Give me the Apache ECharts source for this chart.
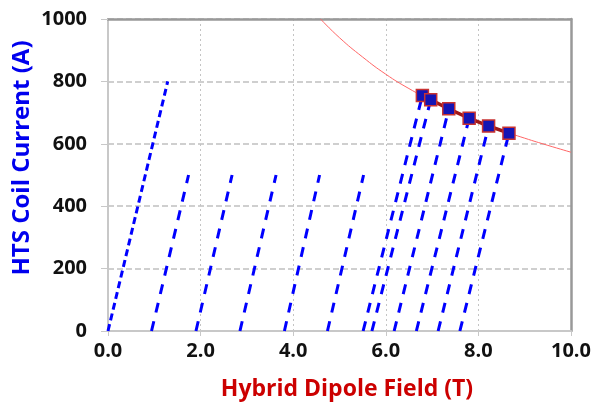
<!DOCTYPE html>
<html>
<head>
<meta charset="utf-8">
<script src="https://cdn.jsdelivr.net/npm/echarts@6/dist/echarts.min.js"></script>
<style>html,body{margin:0;padding:0;background:#fff}#c{width:606px;height:409px}</style>
</head>
<body>
<div id="c"></div>
<script>
// Ramp lines: start field (at 0 A), end field and end current
const rampStartB = [0.00, 0.94, 1.90, 2.85, 3.81, 4.74, 5.51, 5.70, 6.18, 6.66, 7.13, 7.60];
const rampEndB   = [1.29, 1.74, 2.68, 3.63, 4.57, 5.52, 6.79, 6.97, 7.36, 7.80, 8.22, 8.66];
const rampEndI   = [800, 500, 500, 500, 500, 500, 755, 741, 712, 682, 657, 634];
// Quench points
const quenchB = [6.79, 6.97, 7.36, 7.80, 8.22, 8.66];
const quenchI = [755, 741, 712, 682, 657, 634];
// Load line (red thin curve)
const loadB = [4.59, 5.0, 5.5, 6.0, 6.5, 7.0, 7.5, 8.0, 8.5, 9.0, 9.5, 10.0];
const loadI = [1000, 940, 878, 823, 777, 738, 703, 672, 643, 618, 595, 573];
const xTicks = ['0.0', '2.0', '4.0', '6.0', '8.0', '10.0'];
const yTicks = ['0', '200', '400', '600', '800', '1000'];

const chart = echarts.init(document.getElementById('c'));
const series = [];
for (let i = 0; i < rampStartB.length; i++) {
  series.push({
    type: 'line', xAxisIndex: 0, yAxisIndex: 0,
    data: [[rampStartB[i], 0], [rampEndB[i], rampEndI[i]]],
    symbol: 'none', silent: true, z: 3,
    lineStyle: { color: '#0000ff', width: 3, type: i === 0 ? [7, 4] : [10, 9], cap: 'butt' }
  });
}
series.push({
  type: 'line', xAxisIndex: 0, yAxisIndex: 0,
  data: loadB.map((b, i) => [b, loadI[i]]),
  smooth: true, symbol: 'none', z: 2,
  lineStyle: { color: '#ff6666', width: 1 }
});
series.push({
  type: 'line', xAxisIndex: 0, yAxisIndex: 0,
  data: quenchB.map((b, i) => [b, quenchI[i]]),
  symbol: 'rect', symbolSize: 12, z: 5,
  lineStyle: { color: '#a01818', width: 3.5 },
  itemStyle: { color: '#1414b4', borderColor: '#c83232', borderWidth: 1.5 }
});

const tickFont = { color: '#111', fontSize: 20, fontWeight: 'bold', fontFamily: 'Open Sans' };
chart.setOption({
  animation: false,
  grid: { left: 108, right: 35, top: 19, bottom: 78 },
  xAxis: [{
    type: 'value', min: 0, max: 10, interval: 2,
    axisLine: { show: true, lineStyle: { color: '#c8c8c8', width: 2 } },
    axisTick: { show: true, length: 5, lineStyle: { color: '#c8c8c8', width: 1 } },
    axisLabel: Object.assign({ margin: 10, formatter: v => xTicks[Math.round(v / 2)] }, tickFont),
    splitLine: { show: true, lineStyle: { color: '#c4c4c4', width: 1, type: [2, 3] } }
  }, {
    type: 'value', min: 0, max: 10, position: 'top',
    axisLine: { show: true, onZero: false, lineStyle: { color: '#999', width: 2.5 } },
    axisTick: { show: false }, axisLabel: { show: false }, splitLine: { show: false }
  }],
  yAxis: [{
    type: 'value', min: 0, max: 1000, interval: 200,
    axisLine: { show: true, lineStyle: { color: '#c8c8c8', width: 2 } },
    axisTick: { show: true, length: 7, lineStyle: { color: '#c8c8c8', width: 1 } },
    axisLabel: Object.assign({ margin: 21, formatter: v => yTicks[Math.round(v / 200)] }, tickFont),
    splitLine: { show: true, lineStyle: { color: '#c0c0c0', width: 1.5, type: [6, 3] } }
  }, {
    type: 'value', min: 0, max: 1000, position: 'right',
    axisLine: { show: true, onZero: false, lineStyle: { color: '#999', width: 2.5 } },
    axisTick: { show: false }, axisLabel: { show: false }, splitLine: { show: false }
  }],
  graphic: [{
    type: 'text', x: 347, y: 389,
    style: { text: 'Hybrid Dipole Field (T)', fill: '#cc0000', font: 'bold 23px "Open Sans"',
      textAlign: 'center', textVerticalAlign: 'middle' }
  }, {
    type: 'text', rotation: Math.PI / 2, x: 22, y: 158,
    style: { text: 'HTS Coil Current (A)', fill: '#0000ee', font: 'bold 24px "Open Sans"',
      textAlign: 'center', textVerticalAlign: 'middle' }
  }],
  series: series
});
</script>
</body>
</html>
